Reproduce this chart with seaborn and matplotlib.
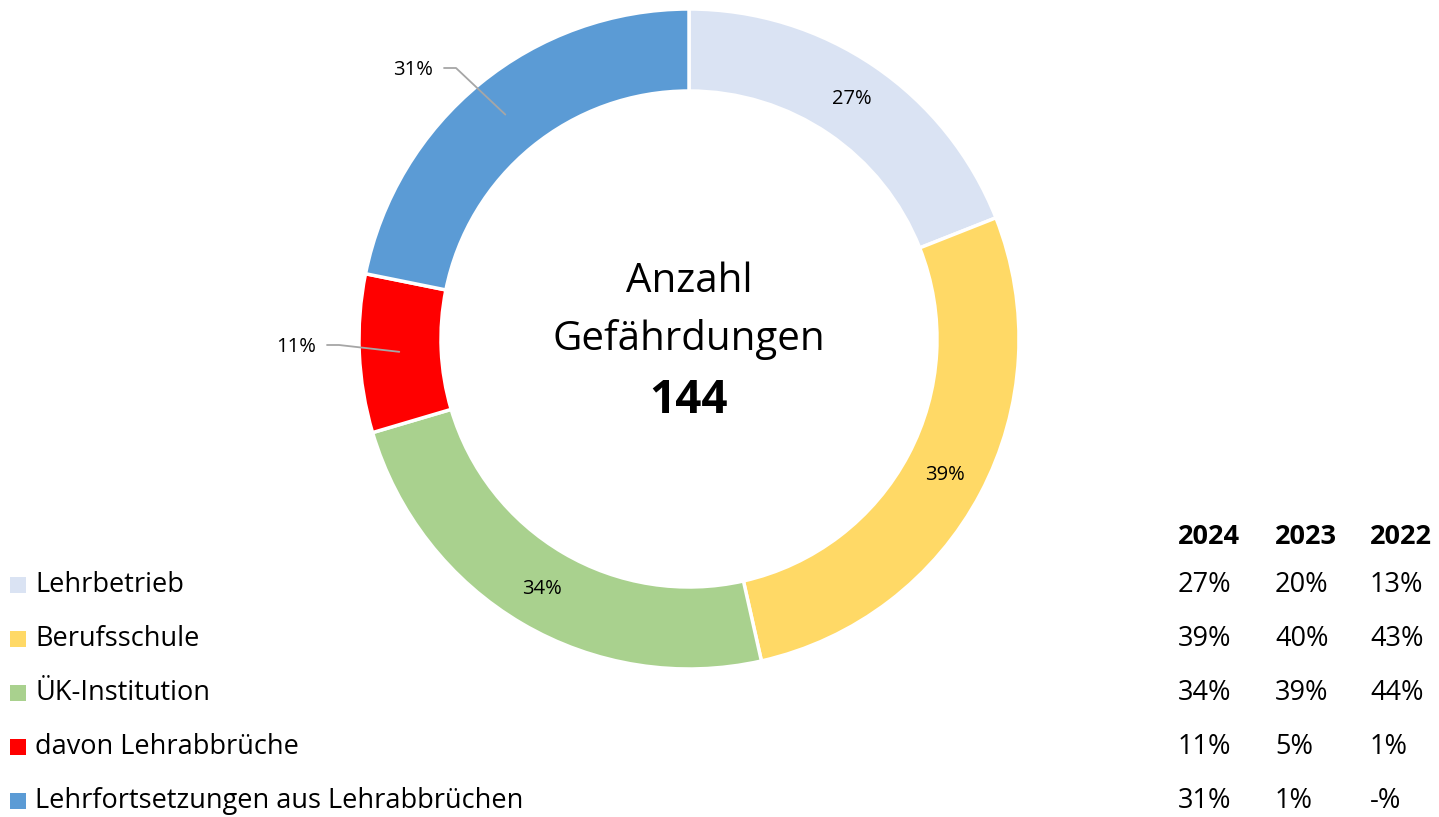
import matplotlib.pyplot as plt
import seaborn as sns
import numpy as np

# data
categories = ["Lehrbetrieb", "Berufsschule", "ÜK-Institution",
              "davon Lehrabbrüche", "Lehrfortsetzungen aus Lehrabbrüchen"]
share_2024 = [27, 39, 34, 11, 31]
years = ["2024", "2023", "2022"]
table_2024 = ["27%", "39%", "34%", "11%", "31%"]
table_2023 = ["20%", "40%", "39%", "5%", "1%"]
table_2022 = ["13%", "43%", "44%", "1%", "-%"]
total = 144
colors = ["#DAE3F3", "#FFD966", "#A9D18E", "#FF0000", "#5B9BD5"]

sns.set_theme(style="white")
plt.rcParams["font.family"] = ["Open Sans", "DejaVu Sans"]
plt.rcParams["text.color"] = "black"

fig = plt.figure(figsize=(14.39, 8.17), dpi=100)
ax = fig.add_axes([0, 0, 1, 1])

cx, cy, R = 689, 817 - 339, 330
wedges, _ = ax.pie(share_2024, colors=sns.color_palette(colors),
                   startangle=90, counterclock=False, radius=R,
                   center=(cx, cy), frame=True,
                   wedgeprops=dict(width=82, edgecolor="white", linewidth=2.5))
ax.set_xlim(0, 1439)
ax.set_ylim(0, 817)
ax.set_aspect("equal")
ax.axis("off")

# percentage labels
outside = {3: (296, 817 - 347), 4: (413, 817 - 70)}
for i, w in enumerate(wedges):
    mid = np.deg2rad((w.theta1 + w.theta2) / 2)
    px, py = cx + 290 * np.cos(mid), cy + 290 * np.sin(mid)
    lab = f"{share_2024[i]}%"
    if i in outside:
        tx, ty = outside[i]
        ax.plot([tx + 31, tx + 43, px], [ty + 2, ty + 2, py],
                color="#A6A6A6", lw=1.3)
        ax.text(tx, ty, lab, ha="center", va="center", fontsize=14.5)
    else:
        ax.text(px, py, lab, ha="center", va="center", fontsize=14.5)

# center text
ax.text(cx, 817 - 282, "Anzahl", ha="center", va="center", fontsize=29)
ax.text(cx, 817 - 339, "Gefährdungen", ha="center", va="center", fontsize=29)
ax.text(cx, 817 - 400, str(total), ha="center", va="center",
        fontsize=33, fontweight="bold")

# legend + table
row_y = [585, 639, 693, 747, 801]
col_x = [1178, 1275, 1370]
for j, yr in enumerate(years):
    ax.text(col_x[j], 817 - 537, yr, ha="left", va="center",
            fontsize=19.5, fontweight="bold")
cols = [table_2024, table_2023, table_2022]
for i, cat in enumerate(categories):
    y = 817 - row_y[i]
    ax.scatter([18], [y], marker="s", s=120, color=colors[i], linewidths=0)
    ax.text(35, y, cat, ha="left", va="center", fontsize=19.5)
    for j in range(3):
        ax.text(col_x[j], y, cols[j][i], ha="left", va="center",
                fontsize=19.5)

fig.savefig("out.png", dpi=100)
